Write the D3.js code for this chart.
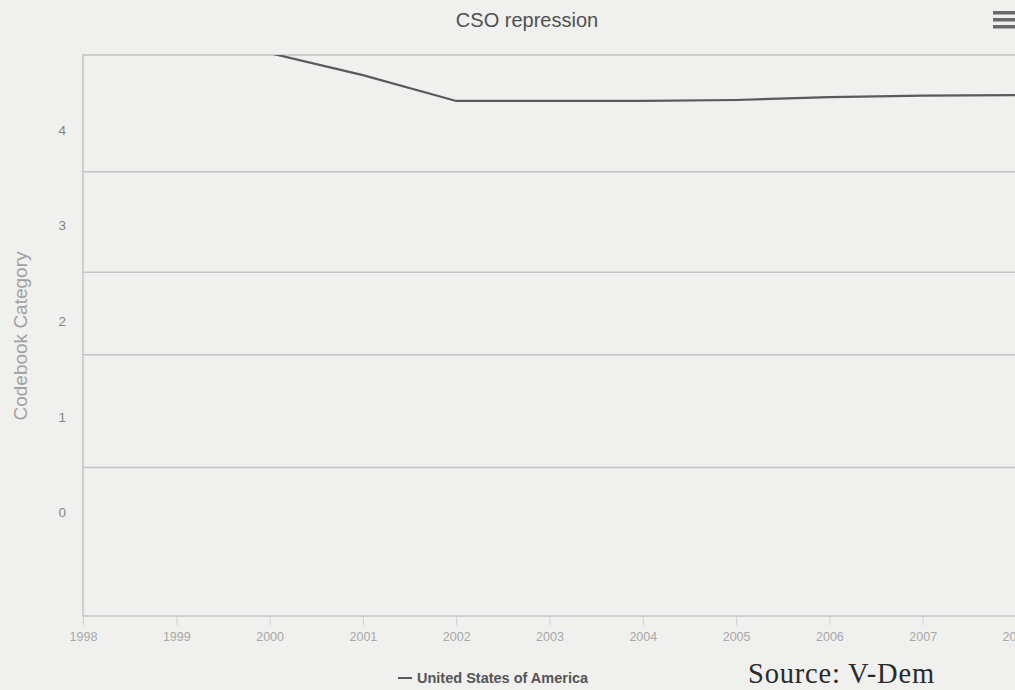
<!DOCTYPE html>
<html>
<head>
<meta charset="utf-8">
<script src="https://cdn.jsdelivr.net/npm/d3@7"></script>
<style>
  body { margin: 0; background: #f0f0ef; overflow: hidden; }
  svg { display: block; font-family: "Liberation Sans", Arial, sans-serif; }
</style>
</head>
<body>
<div class="chart"></div>
<script>
const width = 1015
const height = 690

// data
const years = [1998, 1999, 2000, 2001, 2002, 2003, 2004, 2005, 2006, 2007, 2008]
const usaValues = [4.85, 4.85, 4.8, 4.57, 4.3, 4.3, 4.3, 4.31, 4.34, 4.355, 4.36]
const yTicks = [0, 1, 2, 3, 4]
const thresholds = [0.47, 1.65, 2.51, 3.56]
const seriesName = "United States of America"

const margin = { top: 55, left: 83, bottom: 74, right: -1 }

const svg = d3.select(".chart")
    .append("svg")
    .attr("width", width)
    .attr("height", height)

const xScale = d3.scaleLinear()
    .domain([1998, 2008])
    .range([margin.left, width - margin.right])

const yScale = d3.scaleLinear()
    .domain([-1.08, 4.78])
    .range([height - margin.bottom, margin.top])

const plotBottom = height - margin.bottom

svg.append("defs").append("clipPath")
    .attr("id", "plot-clip")
    .append("rect")
    .attr("x", margin.left)
    .attr("y", margin.top)
    .attr("width", width - margin.left + 20)
    .attr("height", plotBottom - margin.top)

// category boundary lines
svg.selectAll("line.band")
    .data(thresholds)
    .enter().append("line")
    .attr("class", "band")
    .attr("x1", margin.left)
    .attr("x2", width + 10)
    .attr("y1", d => yScale(d))
    .attr("y2", d => yScale(d))
    .attr("stroke", "#c4c4c4")
    .attr("stroke-width", 1.5)

// plot border
svg.append("rect")
    .attr("x", margin.left)
    .attr("y", margin.top)
    .attr("width", width - margin.left + 20)
    .attr("height", plotBottom - margin.top)
    .attr("fill", "none")
    .attr("stroke", "#c4c4c4")
    .attr("stroke-width", 1.5)

// x axis
const xAxis = svg.append("g")
    .attr("transform", `translate(0, ${plotBottom})`)
    .call(d3.axisBottom(xScale).tickValues(years).tickFormat(d3.format("d")).tickSize(9).tickPadding(7))

xAxis.select("path.domain").remove()
xAxis.selectAll("line").attr("stroke", "#d0d0d0").attr("stroke-width", 1)
xAxis.selectAll("text")
    .attr("fill", "#a8a8a8")
    .style("font-size", "12.5px")

// y axis
const yAxis = svg.append("g")
    .attr("transform", `translate(${margin.left - 17}, 0)`)
    .call(d3.axisLeft(yScale).tickValues(yTicks).tickFormat(d3.format("d")).tickSize(0).tickPadding(0))

yAxis.select("path.domain").remove()
yAxis.selectAll("text")
    .attr("fill", "#858585")
    .style("font-size", "13.5px")

svg.append("text")
    .attr("transform", `translate(27, 336) rotate(-90)`)
    .attr("text-anchor", "middle")
    .attr("fill", "#a0a0a0")
    .style("font-size", "19px")
    .text("Codebook Category")

// series line
const line = d3.line()
    .x((d, i) => xScale(years[i]))
    .y(d => yScale(d))

svg.append("path")
    .datum(usaValues)
    .attr("clip-path", "url(#plot-clip)")
    .attr("d", line)
    .attr("fill", "none")
    .attr("stroke", "#5a5a5a")
    .attr("stroke-width", 2.2)

// title
svg.append("text")
    .attr("x", 527)
    .attr("y", 27)
    .attr("text-anchor", "middle")
    .attr("fill", "#505050")
    .style("font-size", "20px")
    .text("CSO repression")

// menu icon
svg.selectAll("rect.menu")
    .data([11, 18, 25])
    .enter().append("rect")
    .attr("class", "menu")
    .attr("x", 993)
    .attr("y", d => d)
    .attr("width", 24)
    .attr("height", 3.5)
    .attr("fill", "#6a6a6a")

// legend
svg.append("line")
    .attr("x1", 398)
    .attr("x2", 412)
    .attr("y1", 678)
    .attr("y2", 678)
    .attr("stroke", "#5a5a5a")
    .attr("stroke-width", 2)

svg.append("text")
    .attr("x", 417)
    .attr("y", 683)
    .attr("fill", "#555")
    .style("font-size", "14.5px")
    .style("font-weight", "bold")
    .text(seriesName)

svg.append("text")
    .attr("x", 748)
    .attr("y", 683)
    .attr("fill", "#2a2a2a")
    .style("font-family", "'Liberation Serif', 'Times New Roman', serif")
    .style("font-size", "28.5px")
    .style("letter-spacing", "0.8px")
    .text("Source: V-Dem")
</script>
</body>
</html>
